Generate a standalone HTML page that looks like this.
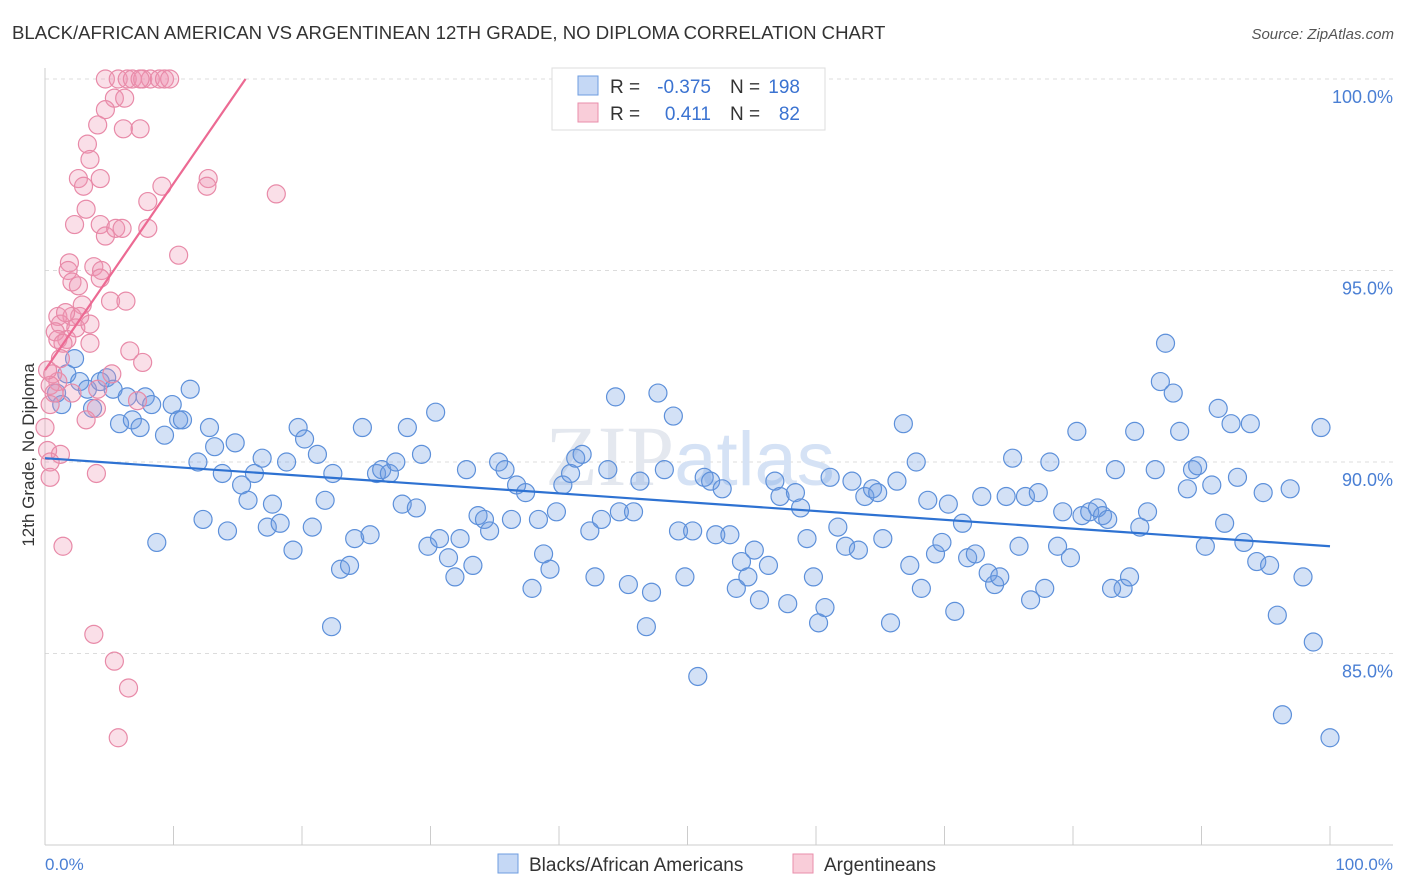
<!DOCTYPE html>
<html><head><meta charset="utf-8"><style>
body{margin:0;background:#fff;font-family:"Liberation Sans",sans-serif;}
svg{display:block}
</style></head><body>
<svg width="1406" height="892" viewBox="0 0 1406 892">
<text x="12" y="39" font-size="18.6" fill="#333">BLACK/AFRICAN AMERICAN VS ARGENTINEAN 12TH GRADE, NO DIPLOMA CORRELATION CHART</text>
<text x="1394" y="39" font-size="15" fill="#555" font-style="italic" text-anchor="end">Source: ZipAtlas.com</text>
<g id="grid"></g>
<text x="690" y="485" font-size="86" fill="#e4e8ef" text-anchor="middle" font-family="Liberation Serif">ZIP<tspan fill="#d5e2f5" font-family="Liberation Sans" font-size="76">atlas</tspan></text>
<g id="axes"></g>
<g id="blue"></g>
<g id="pink"></g>
<g id="trends"></g>
<text transform="translate(34,455) rotate(-90)" font-size="17" fill="#333" text-anchor="middle">12th Grade, No Diploma</text>
<text x="45" y="870" font-size="17" fill="#4a7fd4">0.0%</text>
<text x="1393" y="870" font-size="17" fill="#4a7fd4" text-anchor="end">100.0%</text>
<g font-size="19">
<rect x="552" y="68" width="273" height="62" fill="#fff" stroke="#ddd"/>
<rect x="578" y="76" width="20" height="19" fill="#c5d8f5" stroke="#6e9de0"/>
<rect x="578" y="103" width="20" height="19" fill="#f9cdd9" stroke="#e98eab"/>
<text x="610" y="93" fill="#333">R =</text>
<text x="711" y="93" fill="#3b73d1" text-anchor="end">-0.375</text>
<text x="730" y="93" fill="#333">N =</text>
<text x="800" y="93" fill="#3b73d1" text-anchor="end">198</text>
<text x="610" y="120" fill="#333">R =</text>
<text x="711" y="120" fill="#3b73d1" text-anchor="end">0.411</text>
<text x="730" y="120" fill="#333">N =</text>
<text x="800" y="120" fill="#3b73d1" text-anchor="end">82</text>
</g>
<g>
<rect x="498" y="854" width="20" height="19" fill="#c5d8f5" stroke="#6e9de0"/>
<text x="529" y="871" font-size="19" fill="#333">Blacks/African Americans</text>
<rect x="793" y="854" width="20" height="19" fill="#f9cdd9" stroke="#e98eab"/>
<text x="824" y="871" font-size="19" fill="#333">Argentineans</text>
</g>
</svg>
<script>
const yTicks=[100,95,90,85];
const yTickLabels=["100.0%","95.0%","90.0%","85.0%"];
const xTicks=[0,10,20,30,40,50,60,70,80,90,100];
const blueX=[0.9,1.3,1.7,2.3,2.7,3.3,3.7,4.3,4.8,5.3,5.8,6.4,6.8,7.4,7.8,8.3,8.7,9.3,9.9,10.4,10.7,11.3,11.9,12.3,12.8,13.2,13.8,14.2,14.8,15.3,15.8,16.3,16.9,17.3,17.7,18.3,18.8,19.3,19.7,20.2,20.8,21.2,21.8,22.4,23.0,23.7,22.3,24.1,24.7,25.3,25.8,26.2,26.8,27.3,27.8,28.2,28.9,29.3,29.8,30.4,30.7,31.4,31.9,32.3,32.8,33.3,33.7,34.2,34.6,35.3,35.8,36.3,36.7,37.4,37.9,38.4,38.8,39.3,39.8,40.3,40.9,41.3,41.8,42.4,42.8,43.3,43.8,44.4,44.7,45.4,45.8,46.3,46.8,47.2,47.7,48.2,48.9,49.3,49.8,50.4,50.8,51.3,51.8,52.2,52.7,53.3,53.8,54.2,54.7,55.2,55.6,56.3,56.8,57.2,57.8,58.4,58.8,59.3,59.8,60.2,60.7,61.1,61.7,62.3,62.8,63.3,63.8,64.4,64.8,65.2,65.8,66.3,66.8,67.3,67.8,68.2,68.7,69.3,69.8,70.3,70.8,71.4,71.8,72.4,72.9,73.4,73.9,74.3,74.8,75.3,75.8,76.3,76.7,77.3,77.8,78.2,78.8,79.2,79.8,80.3,80.7,81.3,81.9,82.3,82.7,83.3,83.9,84.4,84.8,85.2,85.8,86.4,86.8,87.2,87.8,88.3,88.9,89.3,89.7,90.3,90.8,91.3,91.8,92.3,92.8,93.3,93.8,94.3,94.8,95.3,95.9,96.3,96.9,97.9,98.7,99.3,100,83.0];
const blueY=[91.8,91.5,92.3,92.7,92.1,91.9,91.4,92.1,92.2,91.9,91.0,91.7,91.1,90.9,91.7,91.5,87.9,90.7,91.5,91.1,91.1,91.9,90.0,88.5,90.9,90.4,89.7,88.2,90.5,89.4,89.0,89.7,90.1,88.3,88.9,88.4,90.0,87.7,90.9,90.6,88.3,90.2,89.0,89.7,87.2,87.3,85.7,88.0,90.9,88.1,89.7,89.8,89.7,90.0,88.9,90.9,88.8,90.2,87.8,91.3,88.0,87.5,87.0,88.0,89.8,87.3,88.6,88.5,88.2,90.0,89.8,88.5,89.4,89.2,86.7,88.5,87.6,87.2,88.7,89.4,89.7,90.1,90.2,88.2,87.0,88.5,89.8,91.7,88.7,86.8,88.7,89.5,85.7,86.6,91.8,89.8,91.2,88.2,87.0,88.2,84.4,89.6,89.5,88.1,89.3,88.1,86.7,87.4,87.0,87.7,86.4,87.3,89.5,89.1,86.3,89.2,88.8,88.0,87.0,85.8,86.2,89.6,88.3,87.8,89.5,87.7,89.1,89.3,89.2,88.0,85.8,89.5,91.0,87.3,90.0,86.7,89.0,87.6,87.9,88.9,86.1,88.4,87.5,87.6,89.1,87.1,86.8,87.0,89.1,90.1,87.8,89.1,86.4,89.2,86.7,90.0,87.8,88.7,87.5,90.8,88.6,88.7,88.8,88.6,88.5,89.8,86.7,87.0,90.8,88.3,88.7,89.8,92.1,93.1,91.8,90.8,89.3,89.8,89.9,87.8,89.4,91.4,88.4,91.0,89.6,87.9,91.0,87.4,89.2,87.3,86.0,83.4,89.3,87.0,85.3,90.9,82.8,86.7];
const pinkX=[4.7,5.7,6.4,6.8,7.6,8.2,8.9,9.3,9.7,7.4,5.4,6.2,4.7,4.1,6.1,7.4,3.3,3.5,2.6,3.0,4.3,9.1,12.7,12.6,18.0,8.0,3.2,2.3,4.3,4.7,5.5,6.0,8.0,10.4,1.9,1.8,3.8,4.4,2.1,2.6,4.3,2.9,5.1,6.3,1.0,2.1,2.7,1.2,2.4,1.7,3.5,0.8,1.0,1.4,6.6,7.6,1.2,0.6,1.0,0.4,0.7,2.1,4.1,5.2,7.2,4.0,3.2,0,0.2,1.2,0.4,0.4,4.0,1.4,3.8,5.4,6.5,5.7,0.4,0.2,3.5,1.6];
const pinkY=[100,100,100,100,100,100,100,100,100,100,99.5,99.5,99.2,98.8,98.7,98.7,98.3,97.9,97.4,97.2,97.4,97.2,97.4,97.2,97.0,96.8,96.6,96.2,96.2,95.9,96.1,96.1,96.1,95.4,95.2,95.0,95.1,95.0,94.7,94.6,94.8,94.1,94.2,94.2,93.8,93.8,93.8,93.6,93.5,93.2,93.1,93.4,93.2,93.1,92.9,92.6,92.7,92.3,92.1,92.0,91.8,91.8,91.9,92.3,91.6,91.4,91.1,90.9,90.3,90.2,90.0,89.6,89.7,87.8,85.5,84.8,84.1,82.8,91.5,92.4,93.6,93.9];
const blueTrend=[90.1,87.8];
const pinkTrend=[92.4,0.487];
const NS='http://www.w3.org/2000/svg';
const X=v=>45+v*12.85;
const Y=v=>79+(100-v)*38.3;
function mk(t,a,p){const e=document.createElementNS(NS,t);for(const k in a)e.setAttribute(k,a[k]);p.appendChild(e);return e;}
const grid=document.getElementById('grid');
yTicks.forEach((t,i)=>{
 const l=mk('line',{x1:45,x2:1393,y1:Y(t),y2:Y(t),stroke:'#dcdcdc','stroke-dasharray':'4,4'},grid);
 
 
 const tx=mk('text',{x:1393,y:Y(t)+24,'font-size':18,fill:'#4a7fd4','text-anchor':'end'},grid);
 tx.textContent=yTickLabels[i];
 
 
});
const ax=document.getElementById('axes');
mk('line',{x1:45,x2:45,y1:68,y2:845,stroke:'#ccc'},ax);
mk('line',{x1:45,x2:1393,y1:845,y2:845,stroke:'#ccc'},ax);
xTicks.forEach(t=>{
 const l=mk('line',{x1:X(t),x2:X(t),y1:826,y2:845,stroke:'#ccc'},ax);
 
 
});
const bg=document.getElementById('blue');
blueX.forEach((x,i)=>{
 const c=mk('circle',{cx:X(x),cy:Y(blueY[i]),r:9,fill:'rgba(110,157,224,0.3)',stroke:'#5d90da','stroke-width':1.2},bg);
 
 
});
const pg=document.getElementById('pink');
pinkX.forEach((x,i)=>{
 const c=mk('circle',{cx:X(x),cy:Y(pinkY[i]),r:9,fill:'rgba(240,150,180,0.3)',stroke:'#e88aa8','stroke-width':1.2},pg);
 
 
});
const tg=document.getElementById('trends');
const bl=mk('line',{x1:X(0),y1:Y(blueTrend[0]),x2:X(100),y2:Y(blueTrend[1]),stroke:'#2e72d2','stroke-width':2.2},tg);


const pEnd=(100-pinkTrend[0])/pinkTrend[1];
const pl=mk('line',{x1:X(0),y1:Y(pinkTrend[0]),x2:X(pEnd),y2:Y(100),stroke:'#ec6a93','stroke-width':2.2},tg);


</script>
</body></html>
